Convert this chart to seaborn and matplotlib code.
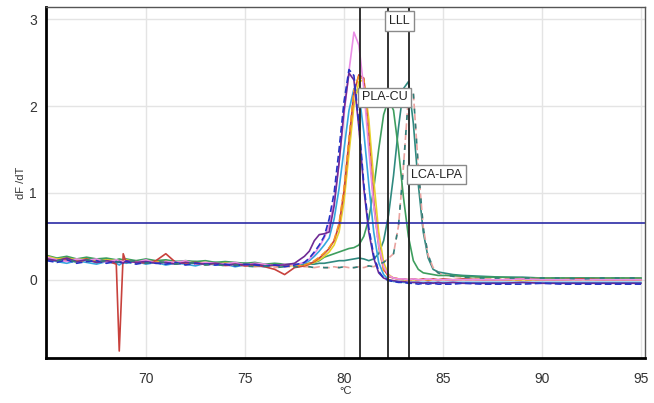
# Melt curve (dF/dT) chart
import numpy as np
import pandas as pd
import matplotlib
matplotlib.use("Agg")
import matplotlib.pyplot as plt
import seaborn as sns

# temperature grid (deg C)
temps = [65.0, 65.5, 66.0, 66.5, 67.0, 67.5, 68.0, 68.5, 68.65, 68.85,
         69.0, 69.5, 70.0, 70.5, 71.0, 71.5, 72.0, 72.5, 73.0, 73.5,
         74.0, 74.5, 75.0, 75.5, 76.0, 76.5, 77.0, 77.5,
         78.0, 78.25, 78.5, 78.75, 79.0, 79.25, 79.5, 79.75, 80.0, 80.25,
         80.5, 80.75, 81.0, 81.25, 81.5, 81.75, 82.0, 82.25, 82.5, 82.75,
         83.0, 83.25, 83.5, 83.75, 84.0, 84.25, 84.5, 84.75, 85.0,
         85.5, 86.0, 87.0, 88.0, 89.0, 90.0, 91.0, 92.0, 93.0, 94.0, 95.0]

# dF/dT values per sample
purple = [0.24, 0.22, 0.25, 0.21, 0.23, 0.2, 0.22, 0.2, 0.21, 0.19, 0.22, 0.2, 0.21, 0.19,
          0.2, 0.18, 0.2, 0.19, 0.18, 0.19, 0.17, 0.18, 0.17, 0.18, 0.16, 0.17, 0.17, 0.19,
          0.27, 0.33, 0.45, 0.52, 0.53, 0.55, 0.85, 1.35, 1.95, 2.38, 2.3, 1.75, 1.05, 0.55,
          0.25, 0.08, 0.02, 0.0, -0.01, -0.02, -0.02, -0.03, -0.03, -0.03, -0.04, -0.03, -0.04,
          -0.03, -0.04,
          -0.03, -0.04, -0.04, -0.04, -0.03, -0.04, -0.04, -0.04, -0.04, -0.04, -0.04]
navy = [0.22, 0.2, 0.23, 0.19, 0.21, 0.22, 0.19, 0.21, 0.2, 0.2, 0.21, 0.18, 0.2, 0.19,
        0.18, 0.2, 0.17, 0.19, 0.18, 0.17, 0.18, 0.16, 0.18, 0.17, 0.16, 0.17, 0.15, 0.17,
        0.2, 0.25, 0.32, 0.4, 0.5, 0.7, 1.0, 1.5, 2.05, 2.42, 2.35, 1.8, 1.1, 0.6,
        0.28, 0.1, 0.02, -0.01, -0.02, -0.03, -0.03, -0.04, -0.04, -0.05, -0.04, -0.05, -0.04,
        -0.05, -0.05,
        -0.05, -0.04, -0.05, -0.05, -0.05, -0.04, -0.05, -0.05, -0.05, -0.05, -0.05]
pink = [0.26, 0.23, 0.21, 0.24, 0.22, 0.24, 0.2, 0.23, 0.22, 0.21, 0.22, 0.2, 0.23, 0.19,
        0.21, 0.2, 0.22, 0.18, 0.2, 0.19, 0.18, 0.2, 0.17, 0.19, 0.18, 0.16, 0.18, 0.17,
        0.2, 0.24, 0.3, 0.38, 0.48, 0.62, 0.9, 1.35, 1.9, 2.4, 2.85, 2.7, 2.2, 1.5,
        0.85, 0.4, 0.15, 0.05, 0.02, 0.01, 0.01, 0.0, 0.01, 0.0, 0.0, 0.01, 0.0,
        0.0, 0.0,
        0.0, 0.0, 0.0, 0.0, 0.01, 0.0, 0.0, 0.0, 0.0, 0.0, 0.0]
red = [0.24, 0.22, 0.23, 0.21, 0.24, 0.2, 0.22, 0.18, -0.82, 0.3, 0.2, 0.21, 0.19, 0.22,
       0.3, 0.2, 0.19, 0.2, 0.18, 0.19, 0.17, 0.18, 0.16, 0.17, 0.15, 0.12, 0.06, 0.14,
       0.16, 0.18, 0.21, 0.25, 0.3, 0.36, 0.45, 0.63, 1.02, 1.6, 2.15, 2.36, 2.32, 1.65,
       0.9, 0.4, 0.12, 0.04, 0.02, 0.01, 0.01, 0.0, 0.01, 0.0, 0.01, 0.0, 0.01,
       0.0, 0.01,
       0.0, 0.01, 0.0, 0.0, 0.01, 0.0, 0.0, 0.01, 0.0, 0.0, 0.0]
orange = [0.25, 0.23, 0.24, 0.22, 0.21, 0.23, 0.2, 0.22, 0.21, 0.2, 0.22, 0.19, 0.21, 0.2,
          0.21, 0.19, 0.2, 0.18, 0.19, 0.18, 0.19, 0.17, 0.18, 0.16, 0.17, 0.16, 0.16, 0.16,
          0.17, 0.19, 0.22, 0.26, 0.31, 0.37, 0.46, 0.65, 1.05, 1.62, 2.18, 2.35, 2.3, 1.62,
          0.88, 0.38, 0.11, 0.04, 0.02, 0.01, 0.0, 0.0, 0.0, 0.0, 0.0, 0.0, 0.0,
          0.0, 0.0,
          0.0, 0.0, 0.0, 0.0, 0.0, 0.0, 0.0, 0.0, 0.0, 0.0, 0.0]
yellow = [0.27, 0.24, 0.25, 0.23, 0.24, 0.21, 0.23, 0.22, 0.22, 0.21, 0.23, 0.2, 0.22, 0.2,
          0.21, 0.2, 0.21, 0.19, 0.2, 0.18, 0.19, 0.18, 0.17, 0.18, 0.17, 0.16, 0.17, 0.16,
          0.16, 0.18, 0.2, 0.23, 0.27, 0.32, 0.4, 0.55, 0.9, 1.45, 2.0, 2.28, 2.3, 1.85,
          1.15, 0.55, 0.2, 0.06, 0.02, 0.01, 0.0, 0.0, 0.0, 0.0, 0.0, 0.0, 0.0,
          0.0, 0.0,
          0.0, 0.0, 0.0, 0.0, 0.0, 0.0, 0.0, 0.0, 0.0, 0.0, 0.0]
lightblue = [0.23, 0.21, 0.19, 0.22, 0.2, 0.18, 0.21, 0.19, 0.17, 0.2, 0.19, 0.21, 0.18, 0.2,
             0.17, 0.19, 0.18, 0.16, 0.19, 0.17, 0.18, 0.15, 0.17, 0.16, 0.15, 0.17, 0.16, 0.17,
             0.19, 0.22, 0.27, 0.33, 0.4, 0.48, 0.7, 1.05, 1.5, 1.95, 2.2, 2.15, 1.7, 1.1,
             0.55, 0.2, 0.06, 0.0, -0.02, -0.02, -0.03, -0.03, -0.03, -0.03, -0.03, -0.03, -0.03,
             -0.03, -0.03,
             -0.03, -0.03, -0.03, -0.03, -0.03, -0.03, -0.03, -0.03, -0.03, -0.03, -0.03]
green = [0.28, 0.25, 0.27, 0.24, 0.26, 0.24, 0.25, 0.23, 0.24, 0.23, 0.24, 0.22, 0.24, 0.22,
         0.23, 0.21, 0.22, 0.21, 0.22, 0.2, 0.21, 0.2, 0.19, 0.2, 0.18, 0.19, 0.18, 0.18,
         0.18, 0.19, 0.2, 0.22, 0.26, 0.28, 0.3, 0.32, 0.34, 0.36, 0.37, 0.4, 0.5, 0.7,
         1.05, 1.5, 1.9, 2.08, 1.95, 1.5, 0.95, 0.5, 0.22, 0.12, 0.08, 0.07, 0.06,
         0.05, 0.05,
         0.05, 0.04, 0.03, 0.03, 0.02, 0.02, 0.02, 0.02, 0.02, 0.02, 0.02]
teal = [0.26, 0.24, 0.26, 0.23, 0.25, 0.22, 0.24, 0.22, 0.23, 0.22, 0.23, 0.21, 0.23, 0.2,
        0.22, 0.21, 0.2, 0.21, 0.19, 0.2, 0.19, 0.18, 0.19, 0.17, 0.18, 0.17, 0.17, 0.17,
        0.17, 0.18, 0.18, 0.19, 0.19, 0.2, 0.21, 0.22, 0.22, 0.23, 0.24, 0.25, 0.24, 0.22,
        0.24, 0.3, 0.45, 0.75, 1.2, 1.75, 2.2, 2.28, 1.8, 1.1, 0.55, 0.25, 0.12,
        0.09, 0.08,
        0.06, 0.05, 0.04, 0.03, 0.03, 0.02, 0.02, 0.02, 0.02, 0.02, 0.02]
salmon = [0.25, 0.22, 0.24, 0.2, 0.23, 0.21, 0.22, 0.2, 0.21, 0.2, 0.21, 0.22, 0.19, 0.21,
          0.2, 0.18, 0.2, 0.19, 0.17, 0.18, 0.16, 0.17, 0.16, 0.15, 0.16, 0.14, 0.15, 0.15,
          0.15, 0.15, 0.14, 0.15, 0.14, 0.14, 0.15, 0.14, 0.15, 0.14, 0.14, 0.15, 0.14, 0.16,
          0.15, 0.18, 0.2, 0.25, 0.3, 0.62, 1.3, 2.1, 2.15, 1.3, 0.6, 0.28, 0.14,
          0.08, 0.06,
          0.04, 0.03, 0.02, 0.02, 0.02, 0.02, 0.02, 0.01, 0.02, 0.02, 0.02]

threshold = 0.65
marker_temps = [80.82, 82.2, 83.3]
marker_labels = ["PLA-CU", "LLL", "LCA-LPA"]
label_y = [2.1, 2.98, 1.21]

# name, values, colour, dashed
series = [
    ("teal", teal, "#2f8a80", False),
    ("salmon", salmon, "#e9a3a0", True),
    ("green", green, "#3e9e5e", False),
    ("lightblue", lightblue, "#35a6de", False),
    ("yellow", yellow, "#e8d22a", False),
    ("red", red, "#c8413c", False),
    ("orange", orange, "#f39424", True),
    ("pink", pink, "#ea8fe6", False),
    ("purple", purple, "#6f2b95", False),
    ("navy", navy, "#2532c4", True),
]

sns.set_style("whitegrid")
plt.rcParams['font.family'] = ['Liberation Sans', 'DejaVu Sans']

fig = plt.figure(figsize=(6.54, 4.03), dpi=100)
ax = fig.add_axes([0.0703, 0.1117, 0.916, 0.871])

for name, vals, col, dashed in series:
    df = pd.DataFrame({'T': temps, 'dFdT': vals})
    sns.lineplot(data=df, x='T', y='dFdT', ax=ax, color=col, lw=1.2,
                 linestyle=(0, (4, 2)) if dashed else '-')

# teal dashes on the salmon curve, red dashes on the orange one
sns.lineplot(x=temps, y=salmon, ax=ax, color="#2f7f7a", lw=1.2, linestyle=(3, (3, 6)))

ax.axhline(threshold, color="#2b2ba6", lw=1.2)
for t in marker_temps:
    ax.axvline(t, color="#222222", lw=1.3)
for t, lab, yy in zip(marker_temps, marker_labels, label_y):
    ax.text(t + 0.08, yy, lab, ha='left', va='center', fontsize=9, color="#222222",
            bbox=dict(boxstyle='square,pad=0.3', fc='white', ec='#8a8a8a', lw=1))

ax.set_xlim(64.95, 95.2)
ax.set_ylim(-0.9, 3.14)
ax.set_xticks([70, 75, 80, 85, 90, 95])
ax.set_yticks([0, 1, 2, 3])
ax.grid(True, color="#e4e4e4", lw=1)
ax.tick_params(axis='both', labelsize=10, colors="#333333", length=3, width=0.8)
ax.tick_params(axis='x', length=0, pad=10)
ax.set_xlabel("°C", fontsize=8, labelpad=0, color="#333333")
ax.set_ylabel("dF /dT", fontsize=8, labelpad=2, color="#333333")

for side in ['left', 'bottom']:
    ax.spines[side].set_color('black')
    ax.spines[side].set_linewidth(2)
for side in ['top', 'right']:
    ax.spines[side].set_color('#555555')
    ax.spines[side].set_linewidth(1)

fig.savefig("out.png", dpi=100)
